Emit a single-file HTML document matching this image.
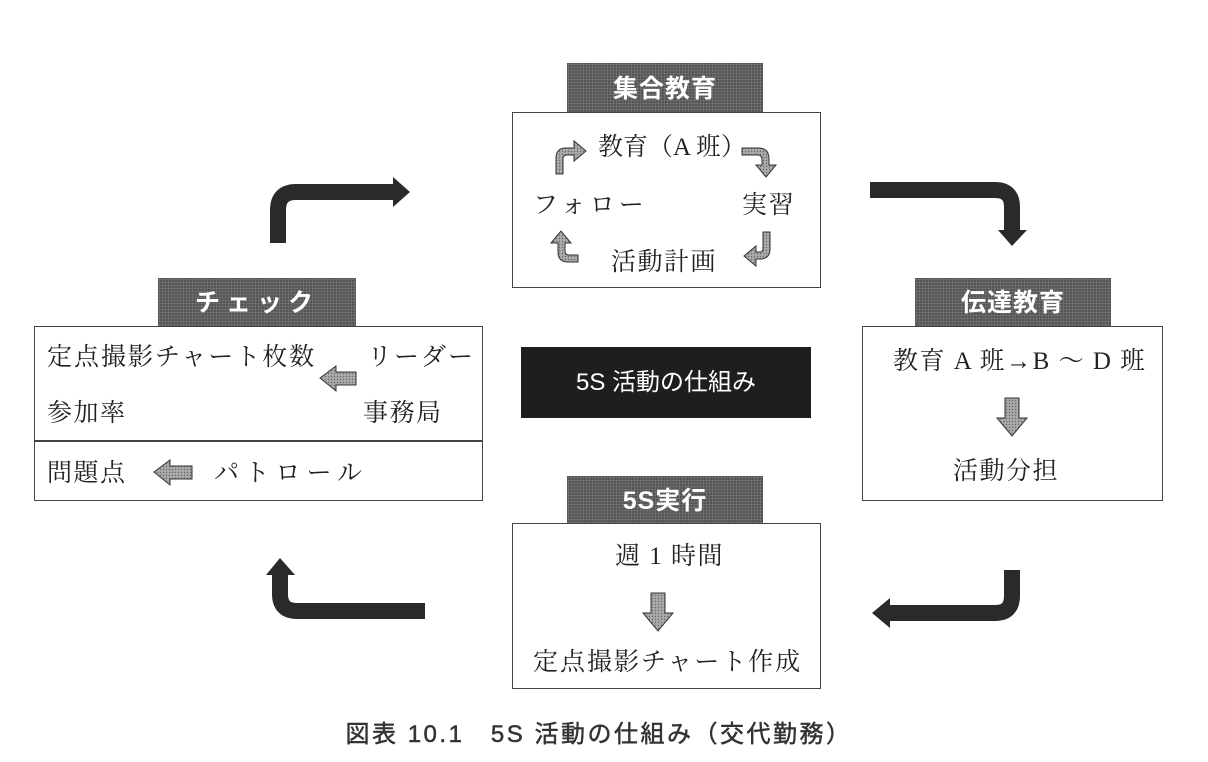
<!DOCTYPE html>
<html><head><meta charset="utf-8"><style>
body{margin:0;background:#fff;width:1208px;height:762px;overflow:hidden;position:relative;font-family:"Liberation Serif","Noto Serif CJK SC",serif;color:#222}
.a{position:absolute}
.tab{position:absolute;background:#555;background-image:radial-gradient(#777 0.8px,transparent 1px);background-size:3px 3px;color:#fff;font-family:"Liberation Sans","Noto Sans CJK JP",sans-serif;font-size:25px;font-weight:bold;text-align:center;letter-spacing:1px}
.box{position:absolute;border:1.5px solid #444;background:#fff;box-sizing:border-box}
.t{position:absolute;font-size:25px;letter-spacing:1.5px;white-space:nowrap;font-family:"Liberation Serif","Noto Serif CJK JP",serif;line-height:30px}
</style></head><body>
<div class="tab" style="left:567px;top:63px;width:196px;height:50px;line-height:52px">集合教育</div>
<div class="box" style="left:512px;top:112px;width:309px;height:176px"></div>
<div class="tab" style="left:158px;top:278px;width:198px;height:49px;line-height:51px;letter-spacing:6px">チェック</div>
<div class="box" style="left:34px;top:326px;width:449px;height:175px"></div>
<div class="a" style="left:34px;top:440px;width:449px;height:1.5px;background:#444"></div>
<div class="tab" style="left:915px;top:278px;width:196px;height:49px;line-height:51px">伝達教育</div>
<div class="box" style="left:862px;top:326px;width:301px;height:175px"></div>
<div class="tab" style="left:567px;top:476px;width:196px;height:48px;line-height:50px">5S実行</div>
<div class="box" style="left:512px;top:523px;width:309px;height:166px"></div>
<div class="a" style="left:521px;top:347px;width:290px;height:71px;background:#1e1e1e;color:#fff;font-family:'Liberation Sans','Noto Sans CJK JP',sans-serif;font-size:24px;text-align:center;line-height:71px">5S 活動の仕組み</div>

<div class="t" style="left:598px;top:133px;letter-spacing:0">教育（A 班）</div>
<div class="t" style="left:533px;top:191px;letter-spacing:4px">フォロー</div>
<div class="t" style="left:742px;top:191px">実習</div>
<div class="t" style="left:611px;top:248px">活動計画</div>

<div class="t" style="left:47px;top:343px;letter-spacing:2px">定点撮影チャート枚数</div>
<div class="t" style="left:367px;top:343px;letter-spacing:2px">リーダー</div>
<div class="t" style="left:47px;top:399px">参加率</div>
<div class="t" style="left:363px;top:399px">事務局</div>
<div class="t" style="left:47px;top:459px">問題点</div>
<div class="t" style="left:214px;top:459px;letter-spacing:6px">パトロール</div>

<div class="t" style="left:893px;top:347px">教育 A 班→B ～ D 班</div>
<div class="t" style="left:953px;top:457px">活動分担</div>
<div class="t" style="left:615px;top:542px">週 1 時間</div>
<div class="t" style="left:533px;top:648px;letter-spacing:2px">定点撮影チャート作成</div>

<div class="a" style="left:0;width:1208px;top:714px;text-align:center;font-family:'Liberation Sans','Noto Sans CJK JP',sans-serif;font-size:24px;color:#333;padding-right:10px;box-sizing:border-box;letter-spacing:2.5px;-webkit-text-stroke:0.5px #333">図表 10.1　5S 活動の仕組み（交代勤務）</div>

<svg class="a" style="left:0;top:0" width="1208" height="762">
<defs><pattern id="p" width="3" height="3" patternUnits="userSpaceOnUse"><rect width="3" height="3" fill="#aaa"/><circle cx="1.5" cy="1.5" r="0.7" fill="#666"/></pattern></defs>
<g fill="none" stroke="#2a2a2a" stroke-width="16">
<path d="M278 243 V210 Q278 192 296 192 H395"/>
<path d="M870 190 H995 Q1012 190 1012 207 V232"/>
<path d="M1012 570 V596 Q1012 613 995 613 H888"/>
<path d="M425 611 H297 Q280 611 280 594 V573"/>
</g>
<g fill="#2a2a2a">
<polygon points="393,177 410,192 393,207"/>
<polygon points="998,230 1027,230 1012,246"/>
<polygon points="890,598 890,628 872,613"/>
<polygon points="266,575 295,575 280,558"/>
</g>
<g fill="url(#p)" stroke="#333" stroke-width="1">
<polygon points="320,378 336,366 336,372 356,372 356,385 336,385 336,391"/>
<polygon points="154,472 170,460 170,466 192,466 192,479 170,479 170,485"/>
<polygon points="1005,398 1019,398 1019,418 1027,418 1012,436 997,418 1005,418"/>
<polygon points="651,593 665,593 665,613 673,613 658,631 643,613 651,613"/>
<path d="M556 174 V158 Q556 148 566 148 H574 V141 L586 151 L574 161 V155 H567 Q563 155 563 159 V174 Z"/>
<path d="M742 148 H758 Q769 148 769 159 V165 H776 L766 177 L756 165 H762 V160 Q762 155 758 155 H742 Z"/>
<path d="M770 232 V249 Q770 259 760 259 H756 V266 L744 256 L756 246 V252 H760 Q763 252 763 248 V232 Z"/>
<path d="M578 262 H568 Q558 262 558 252 V243 H551 L561 231 L571 243 H565 V251 Q565 255 569 255 H578 Z"/>
</g>
</svg>
</body></html>
